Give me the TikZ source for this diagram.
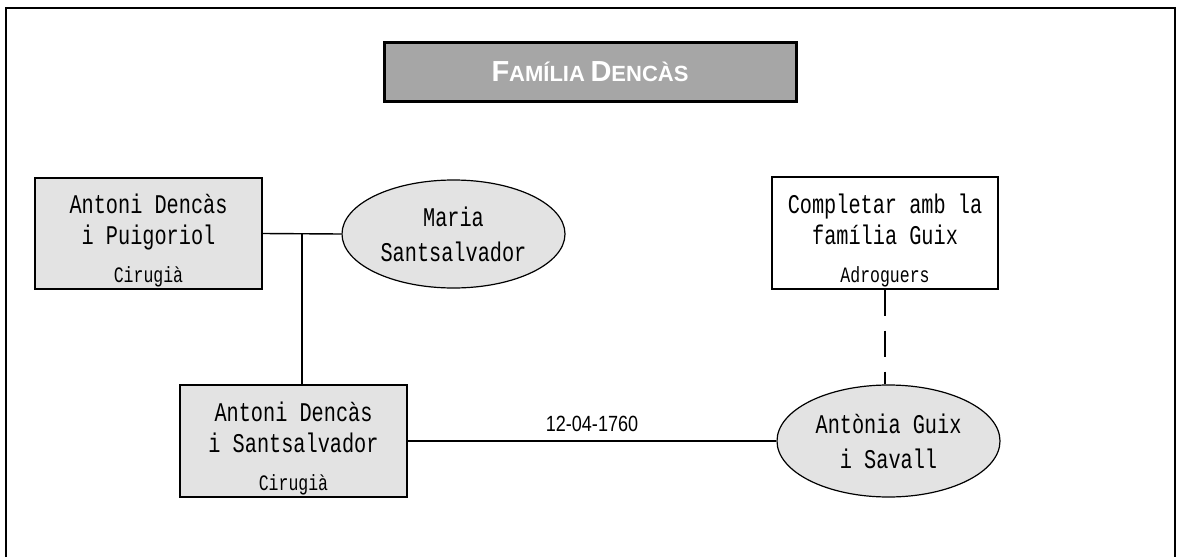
\documentclass[tikz,border=0pt]{standalone}
\usepackage{fontspec}
\newfontfamily\monof[FakeStretch=0.75]{Liberation Mono}
\newfontfamily\sansf{Liberation Sans}
\newfontfamily\sansn[FakeStretch=0.82]{Liberation Sans}
\usetikzlibrary{shapes.geometric,calc}
\definecolor{boxgray}{HTML}{E3E3E3}
\definecolor{titlegray}{HTML}{A6A6A6}
\newcommand\occup[1]{{\fontsize{11}{15.5}\selectfont #1}}
\newcommand\topstrut{\rule{0pt}{17pt}}
\begin{document}
\begin{tikzpicture}[x=0.5pt,y=-0.5pt,
  person/.style={draw=black, line width=0.6pt, fill=boxgray, minimum width=113.5pt,
    minimum height=55.5pt, inner sep=0pt, align=center,
    font=\monof\fontsize{13.5}{15.5}\selectfont},
  spouse/.style={ellipse, draw=black, line width=0.6pt, fill=boxgray, minimum width=111.5pt,
    minimum height=54pt, inner sep=0pt, align=center,
    font=\monof\fontsize{13.5}{17.5}\selectfont},
  link/.style={line width=0.7pt},
  frame/.style={line width=1pt}]
\useasboundingbox (0,0) rectangle (1177,557);
\draw[frame] (6,557) -- (6,8) -- (1175,8) -- (1175,557);

\node[draw=black, line width=1.5pt, fill=titlegray, minimum width=206pt, minimum height=29.5pt,
  inner sep=0pt, text=white, font=\sansf\bfseries] (title) at (590,71.5)
  {{\fontsize{14.5}{16}\selectfont F}{\fontsize{11}{16}\selectfont AMÍLIA} {\fontsize{14.5}{16}\selectfont D}{\fontsize{11}{16}\selectfont ENCÀS}};

\node[person] (b1) at (148.5,233.5) {\topstrut Antoni Dencàs\\i Puigoriol\\[3.5pt]\occup{Cirugià}};
\node[spouse] (e1) at (453.5,234) {Maria\\Santsalvador};
\node[person, minimum height=56pt] (b2) at (293.5,441) {\topstrut Antoni Dencàs\\i Santsalvador\\[3.5pt]\occup{Cirugià}};
\node[spouse, minimum height=56pt] (e2) at (888.5,441) {Antònia Guix\\i Savall};
\node[person, fill=white, minimum width=113pt, minimum height=56pt] (b3) at (885,233)
  {\topstrut Completar amb la\\família Guix\\[3.5pt]\occup{Adroguers}};

\draw[link] (b1.east) -- (e1.west);
\coordinate (j) at ($(b1.east)!0.5!(e1.west)$);
\draw[link] (j) -- (j |- b2.north);
\draw[link] (b2.east) -- node[above=4.5pt, inner sep=0pt, font=\sansn\fontsize{11}{12}\selectfont] (date) {12-04-1760} (e2.west);
\draw[link, dash pattern=on 13pt off 7.5pt] (b3.south) -- (b3.south |- e2.north);
\end{tikzpicture}
\end{document}
